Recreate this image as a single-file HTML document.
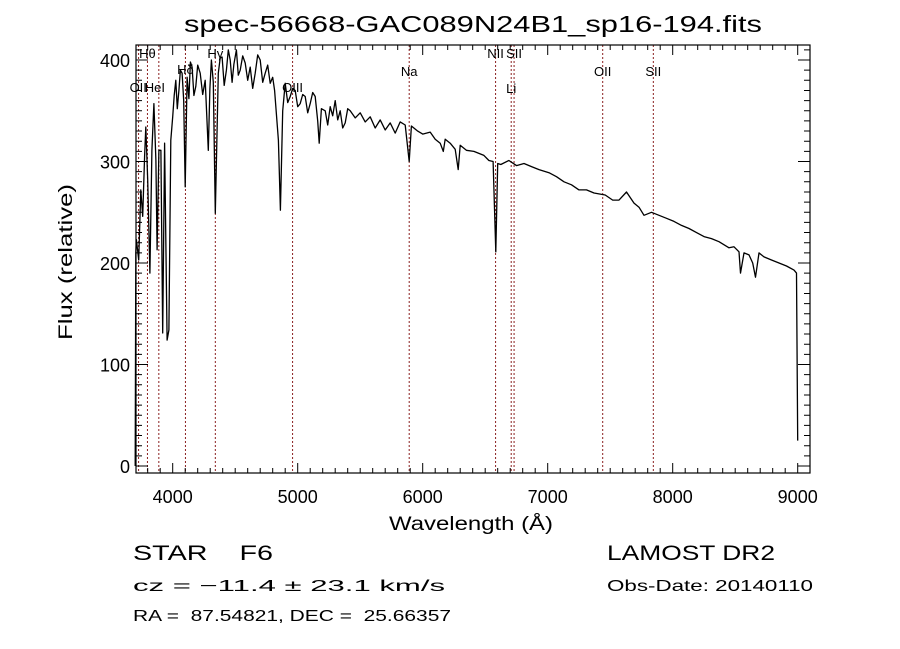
<!DOCTYPE html>
<html><head><meta charset="utf-8"><style>
html,body{margin:0;padding:0;background:#fff;}
svg{display:block;}
text{font-family:"Liberation Sans",sans-serif;fill:#000;white-space:pre;}
</style></head><body>
<svg id="chart" width="900" height="649" viewBox="0 0 900 649" xmlns="http://www.w3.org/2000/svg" xml:space="preserve">
<rect width="900" height="649" fill="#fff"/>
<text x="473" y="32" font-size="23" text-anchor="middle" textLength="578" lengthAdjust="spacingAndGlyphs">spec-56668-GAC089N24B1_sp16-194.fits</text>
<g id="lines"></g>
<g id="plot"></g>
<g id="axes"></g>
<text x="471" y="530" font-size="19" text-anchor="middle" textLength="164" lengthAdjust="spacingAndGlyphs">Wavelength (Å)</text>
<text transform="translate(72,262) rotate(-90)" font-size="19" text-anchor="middle" textLength="156" lengthAdjust="spacingAndGlyphs">Flux (relative)</text>
<text x="133" y="560" font-size="21" textLength="140" lengthAdjust="spacingAndGlyphs">STAR    F6</text>
<text x="133" y="591" font-size="16" textLength="312" lengthAdjust="spacingAndGlyphs">cz = −11.4 ± 23.1 km/s</text>
<text x="133" y="621" font-size="16" textLength="318" lengthAdjust="spacingAndGlyphs">RA =  87.54821, DEC =  25.66357</text>
<text x="607" y="560" font-size="21" textLength="168" lengthAdjust="spacingAndGlyphs">LAMOST DR2</text>
<text x="607" y="591" font-size="16" textLength="206" lengthAdjust="spacingAndGlyphs">Obs-Date: 20140110</text>
</svg>
<script>
const wave = [3700,3705,3710,3728,3745,3760,3775,3785,3800,3818,3834,3850,3866,3875,3890,3906,3920,3935,3955,3970,3985,4000,4012,4025,4037,4050,4062,4075,4088,4100,4115,4130,4142,4155,4170,4185,4200,4220,4240,4260,4285,4298,4310,4325,4341,4365,4380,4395,4412,4430,4445,4460,4475,4490,4510,4525,4540,4560,4580,4600,4620,4640,4660,4680,4700,4720,4740,4760,4780,4800,4815,4846,4862,4880,4900,4920,4940,4960,4980,5000,5020,5040,5060,5080,5100,5120,5140,5160,5172,5190,5220,5240,5260,5280,5300,5320,5340,5360,5380,5400,5420,5460,5500,5540,5580,5620,5660,5700,5740,5780,5820,5860,5892,5910,5960,6000,6060,6100,6140,6165,6180,6220,6260,6284,6300,6350,6410,6450,6490,6530,6563,6585,6600,6625,6690,6750,6810,6870,6930,7010,7070,7130,7190,7250,7310,7370,7460,7520,7570,7630,7690,7730,7770,7830,7890,7950,8010,8070,8130,8190,8250,8310,8370,8450,8490,8530,8542,8570,8610,8640,8662,8690,8730,8790,8850,8910,8970,8990,9000];
const flux = [0,210,223,203,272,246,305,334,282,190,311,357,301,213,311,311,131,318,124,134,321,344,365,380,352,370,390,387,360,275,383,362,398,393,365,374,395,387,366,380,311,372,400,378,249,387,402,403,375,390,410,400,378,396,410,385,390,404,397,380,393,372,387,405,400,378,387,395,377,383,370,321,252,350,377,358,364,372,370,354,357,366,364,348,357,368,364,340,318,352,350,336,354,345,360,341,350,333,338,352,350,343,348,339,344,333,341,331,338,328,339,336,300,335,330,327,329,322,318,310,322,318,312,292,316,311,310,308,306,301,300,211,298,297,301,296,298,295,292,289,285,280,277,272,272,269,267,262,262,270,259,255,247,250,247,244,241,237,234,230,226,224,221,215,216,211,190,210,208,200,186,210,206,203,200,197,193,190,25];
const lineWave = [3727,3798,3889,4102,4341,4959,5892,6583,6708,6731,7440,7845];
const lineLabels = [["OII",3727,92,"start",-9],["HeI",3889,92,"middle",-4],["Hθ",3798,58,"middle",0],["Hδ",4102,74,"middle",0],["Hγ",4341,58,"middle",0],["OIII",4959,92,"middle",0],["Na",5892,76,"middle",0],["NII",6583,58,"middle",0],["SII",6731,58,"middle",0],["Li",6708,93,"middle",0],["OII",7440,76,"middle",0],["SII",7845,76,"middle",0]];
const xTicks = [4000,5000,6000,7000,8000,9000];
const yTicks = [0,100,200,300,400];

const NS="http://www.w3.org/2000/svg";
const L=136,R=810,T=45,B=473;
const xs=w=>172.7+(w-4000)*0.125;
const ys=f=>466-f*1.015;
function mk(tag,attrs,parent){const e=document.createElementNS(NS,tag);for(const k in attrs)e.setAttribute(k,attrs[k]);parent.appendChild(e);return e;}
const lines=document.getElementById('lines'),plot=document.getElementById('plot'),axes=document.getElementById('axes');
lineWave.forEach(w=>{const e=mk('line',{x1:xs(w),x2:xs(w),y1:T,y2:B,stroke:'#8b2020','stroke-width':1,'stroke-dasharray':'2,2'},lines);

});
lineLabels.forEach(l=>{const t=mk('text',{x:xs(l[1])+l[4],y:l[2],'font-size':13,'text-anchor':l[3],'font-family':'Liberation Serif, serif'},lines);t.textContent=l[0];

});
const pts=wave.map((w,i)=>xs(w).toFixed(1)+','+ys(flux[i]).toFixed(1)).join(' ');
const pl=mk('polyline',{points:pts,fill:'none',stroke:'#000','stroke-width':1.3,'stroke-linejoin':'round'},plot);


const box=mk('rect',{x:L,y:T,width:R-L,height:B-T,fill:'none',stroke:'#000','stroke-width':1.2},axes);


let d='';
for(let w=3800;w<=9000;w+=100){const x=xs(w);const maj=w%1000===0;const len=maj?10:5;d+=`M${x},${B}v${-len}M${x},${T}v${len}`;}
for(let f=0;f<=410;f+=10){const y=ys(f);const maj=f%100===0;const len=maj?12:6;d+=`M${L},${y}h${len}M${R},${y}h${-len}`;}
const tk=mk('path',{d:d,stroke:'#000','stroke-width':1,fill:'none'},axes);


xTicks.forEach(w=>{const t=mk('text',{x:xs(w),y:503,'font-size':18,'text-anchor':'middle'},axes);t.textContent=w;

});
yTicks.forEach(f=>{const t=mk('text',{x:130,y:ys(f)+7,'font-size':18,'text-anchor':'end'},axes);t.textContent=f;

});
</script>
</body></html>
